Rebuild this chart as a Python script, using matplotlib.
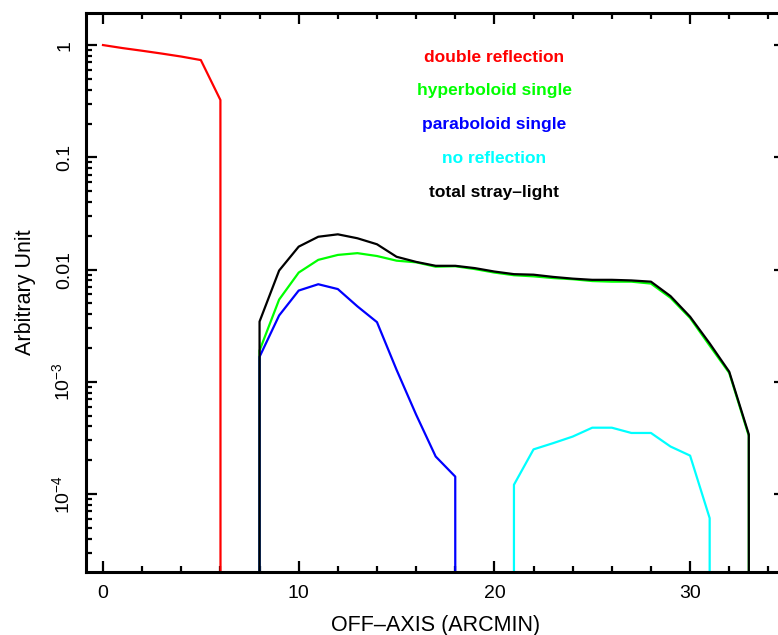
import matplotlib
matplotlib.use('Agg')
import matplotlib.pyplot as plt
import numpy as np

plt.rcParams['font.family'] = ['Liberation Sans', 'DejaVu Sans']
plt.rcParams['mathtext.default'] = 'regular'

# off-axis angle (arcmin) and the stray-light components
x_double = [0, 1, 2, 3, 4, 5, 6, 7]
double_refl = [1.0, 0.94, 0.89, 0.84, 0.79, 0.735, 0.324, 0]

x_hyper = list(range(7, 35))
hyper_single = [0, 1.9e-3, 5.4e-3, 9.4e-3, 0.0122, 0.0135, 0.0140, 0.0132,
                0.0120, 0.0116, 0.0106, 0.0107, 0.0101, 0.0094, 0.0089,
                0.0087, 0.0084, 0.0082, 0.0079, 0.0078, 0.0078, 0.0075,
                0.0056, 0.0037, 0.0021, 0.0012, 3.3e-4, 0]

x_para = list(range(7, 20))
para_single = [0, 1.67e-3, 3.9e-3, 6.5e-3, 7.4e-3, 6.7e-3, 4.7e-3, 3.4e-3,
               1.28e-3, 5.1e-4, 2.16e-4, 1.43e-4, 0]

x_noref = list(range(20, 33))
no_refl = [0, 1.21e-4, 2.5e-4, 2.84e-4, 3.25e-4, 3.9e-4, 3.9e-4, 3.5e-4,
           3.5e-4, 2.65e-4, 2.2e-4, 6.1e-5, 0]

x_total = list(range(7, 35))
total = [0, 3.44e-3, 9.8e-3, 0.0160, 0.0196, 0.0206, 0.0190, 0.0168,
         0.0130, 0.0117, 0.0108, 0.0108, 0.0103, 0.0096, 0.0091, 0.0090,
         0.0086, 0.0083, 0.0081, 0.0081, 0.0080, 0.0078, 0.0058, 0.0038,
         0.0022, 0.00123, 3.4e-4, 0]

labels = ['double reflection', 'hyperboloid single', 'paraboloid single',
          'no reflection', 'total stray\u2013light']
colors = ['#ff0000', '#00ff00', '#0000ff', '#00ffff', '#000000']

fig = plt.figure(figsize=(7.78, 6.35), dpi=100)
# right spine sits past the image edge, as in the original
ax = fig.add_axes([0.1105, 0.0992, 0.8985, 0.8803])
ax.set_yscale('log', nonpositive='clip')

ax.plot(x_double, double_refl, color=colors[0], lw=1.6)
ax.plot(x_hyper, hyper_single, color=colors[1], lw=1.6)
ax.plot(x_para, para_single, color=colors[2], lw=1.6)
ax.plot(x_noref, no_refl, color=colors[3], lw=1.6)
ax.plot(x_total, total, color=colors[4], lw=1.6)

ax.set_xlim(-0.87, 34.85)
ax.set_ylim(2.02e-5, 1.93)

ax.set_xticks([0, 10, 20, 30])
ax.set_xticks(np.arange(0, 35, 2), minor=True)
ax.set_yticks([1e-4, 1e-3, 1e-2, 1e-1, 1])
ax.set_yticklabels(['$10^{-4}$', '$10^{-3}$', '0.01', '0.1', '1'],
                   rotation=90, va='center')
ax.tick_params(which='both', direction='in', top=True, right=True, width=1.6,
               labelsize=14, colors='black')
ax.tick_params(which='major', length=8, pad=9)
ax.tick_params(which='minor', length=4.5)
for s in ax.spines.values():
    s.set_linewidth(2.2)

ax.set_xlabel('OFF\u2013AXIS (ARCMIN)', fontsize=15.5, labelpad=10)
ax.set_ylabel('Arbitrary Unit', fontsize=15.5, labelpad=11)

for i, (lab, c) in enumerate(zip(labels, colors)):
    ax.text(0.584, 0.921 - i * 0.0605, lab, color=c, fontsize=12.5,
            fontweight='bold', ha='center', va='center', transform=ax.transAxes)

fig.savefig('out.png', dpi=100)
